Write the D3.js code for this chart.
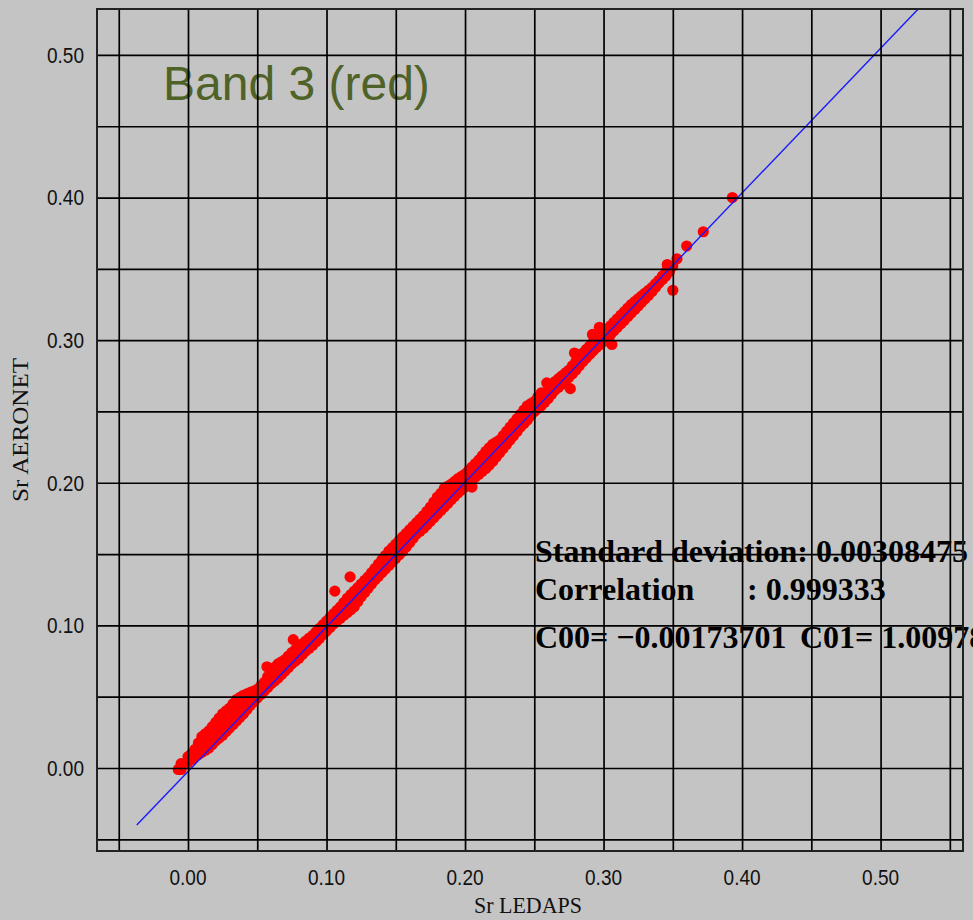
<!DOCTYPE html>
<html>
<head>
<meta charset="utf-8">
<script src="https://cdn.jsdelivr.net/npm/d3@7"></script>
<style>
  body { margin: 0; background: #c4c4c4; }
  .tick-label { font-family: "Liberation Sans", Arial, sans-serif; font-size: 22px; fill: #111; }
  .axis-title { font-family: "Liberation Serif", "Times New Roman", serif; font-size: 24px; fill: #111; }
  .stats { font-family: "Liberation Serif", "Times New Roman", serif; font-size: 32px; font-weight: bold; fill: #000; }
</style>
</head>
<body>
<div class="chart"></div>
<script>
// data: [Sr LEDAPS, Sr AERONET]
var srBandA = [
  [-0.007, -0.001], [-0.005, -0.001], [-0.005, 0.003],
  [0.000, 0.004], [0.000, 0.008],
  [0.005, 0.008], [0.005, 0.013],
  [0.010, 0.011], [0.010, 0.016], [0.010, 0.022],
  [0.015, 0.014], [0.015, 0.020], [0.015, 0.026],
  [0.020, 0.019], [0.020, 0.023], [0.020, 0.028], [0.020, 0.032],
  [0.025, 0.023], [0.025, 0.028], [0.025, 0.033], [0.025, 0.038],
  [0.030, 0.028], [0.030, 0.033], [0.030, 0.038], [0.030, 0.042],
  [0.035, 0.033], [0.035, 0.038], [0.035, 0.043], [0.035, 0.048],
  [0.040, 0.038], [0.040, 0.044], [0.040, 0.051],
  [0.045, 0.044], [0.045, 0.049], [0.045, 0.053],
  [0.050, 0.049], [0.050, 0.055],
  [0.055, 0.054], [0.055, 0.060], [0.057, 0.071],
  [0.060, 0.059], [0.060, 0.064], [0.060, 0.068],
  [0.065, 0.063], [0.065, 0.068], [0.065, 0.073],
  [0.070, 0.068], [0.070, 0.072], [0.070, 0.076],
  [0.075, 0.073], [0.075, 0.077], [0.075, 0.081], [0.076, 0.090],
  [0.080, 0.077], [0.080, 0.081], [0.080, 0.085],
  [0.085, 0.082], [0.085, 0.089],
  [0.090, 0.086], [0.090, 0.093],
  [0.095, 0.091], [0.095, 0.098],
  [0.100, 0.096], [0.100, 0.103],
  [0.105, 0.101], [0.105, 0.108], [0.106, 0.124],
  [0.110, 0.105], [0.110, 0.109], [0.110, 0.113],
  [0.115, 0.109], [0.115, 0.114], [0.115, 0.119], [0.117, 0.134],
  [0.120, 0.113], [0.120, 0.118], [0.120, 0.124],
  [0.125, 0.120], [0.125, 0.124], [0.125, 0.129],
  [0.130, 0.126], [0.130, 0.130], [0.130, 0.134],
  [0.135, 0.132], [0.135, 0.136], [0.135, 0.140],
  [0.140, 0.137], [0.140, 0.142], [0.140, 0.146],
  [0.145, 0.142], [0.145, 0.147], [0.145, 0.152],
  [0.150, 0.147], [0.150, 0.152], [0.150, 0.157],
  [0.155, 0.152], [0.155, 0.157], [0.155, 0.162],
  [0.160, 0.158], [0.160, 0.162], [0.160, 0.167],
  [0.165, 0.164], [0.165, 0.168], [0.165, 0.172],
  [0.170, 0.168], [0.170, 0.173], [0.170, 0.177],
  [0.175, 0.173], [0.175, 0.178], [0.175, 0.183],
  [0.180, 0.178], [0.180, 0.184], [0.180, 0.190],
  [0.185, 0.183], [0.185, 0.188], [0.185, 0.192], [0.185, 0.196],
  [0.190, 0.188], [0.190, 0.193], [0.190, 0.199],
  [0.195, 0.193], [0.195, 0.198], [0.195, 0.203],
  [0.200, 0.197], [0.200, 0.201], [0.200, 0.206],
  [0.205, 0.197], [0.205, 0.202], [0.205, 0.207], [0.205, 0.211],
  [0.210, 0.206], [0.210, 0.211], [0.210, 0.216],
  [0.215, 0.210], [0.215, 0.216], [0.215, 0.222],
  [0.220, 0.215], [0.220, 0.221], [0.220, 0.227],
  [0.225, 0.221], [0.225, 0.225], [0.225, 0.230],
  [0.230, 0.227], [0.230, 0.231], [0.230, 0.236],
  [0.235, 0.233], [0.235, 0.237], [0.235, 0.242],
  [0.240, 0.239], [0.240, 0.243], [0.240, 0.248],
  [0.245, 0.244], [0.245, 0.249], [0.245, 0.254],
  [0.250, 0.250], [0.250, 0.254], [0.250, 0.257],
  [0.255, 0.254], [0.255, 0.258], [0.255, 0.263],
  [0.260, 0.259], [0.260, 0.265], [0.259, 0.270],
  [0.265, 0.265], [0.265, 0.271],
  [0.270, 0.269], [0.270, 0.275],
  [0.275, 0.274], [0.275, 0.279], [0.276, 0.266],
  [0.280, 0.279], [0.280, 0.285], [0.279, 0.291],
  [0.285, 0.285], [0.285, 0.291],
  [0.290, 0.290], [0.290, 0.296], [0.292, 0.304],
  [0.295, 0.295], [0.295, 0.301], [0.297, 0.309],
  [0.300, 0.299], [0.300, 0.305],
  [0.305, 0.304], [0.305, 0.310], [0.306, 0.297],
  [0.310, 0.309], [0.310, 0.315],
  [0.315, 0.314], [0.315, 0.320],
  [0.320, 0.319], [0.320, 0.325],
  [0.325, 0.324], [0.325, 0.329],
  [0.330, 0.329], [0.330, 0.333],
  [0.335, 0.334], [0.335, 0.337],
  [0.340, 0.340], [0.340, 0.342],
  [0.345, 0.345], [0.345, 0.348], [0.346, 0.353],
  [0.350, 0.352], [0.350, 0.335],
  [0.353, 0.357], [0.360, 0.366], [0.372, 0.376], [0.393, 0.400]
];

// more points read between the ones above, where the cloud is solid
var srBandB = [
  [0.0025, 0.006], [0.0025, 0.010],
  [0.0075, 0.0095], [0.0075, 0.0145], [0.0075, 0.0175],
  [0.0125, 0.0125], [0.0125, 0.0185], [0.0125, 0.024],
  [0.0175, 0.0165], [0.0175, 0.0225], [0.0175, 0.029],
  [0.0225, 0.021], [0.0225, 0.0265], [0.0225, 0.031], [0.0225, 0.035],
  [0.0275, 0.0255], [0.0275, 0.0305], [0.0275, 0.0355], [0.0275, 0.040],
  [0.0325, 0.0305], [0.0325, 0.0355], [0.0325, 0.0405], [0.0325, 0.045],
  [0.0375, 0.0355], [0.0375, 0.041], [0.0375, 0.0455], [0.0375, 0.0495],
  [0.0425, 0.041], [0.0425, 0.0465], [0.0425, 0.052],
  [0.0475, 0.0465], [0.0475, 0.051], [0.0475, 0.054],
  [0.0525, 0.0515], [0.0525, 0.0575],
  [0.0575, 0.0565], [0.0575, 0.064],
  [0.0625, 0.061], [0.0625, 0.066], [0.0625, 0.0705],
  [0.0675, 0.0655], [0.0675, 0.070], [0.0675, 0.0745],
  [0.0725, 0.0705], [0.0725, 0.0745], [0.0725, 0.0785],
  [0.0775, 0.075], [0.0775, 0.079], [0.0775, 0.083],
  [0.0825, 0.0795], [0.0825, 0.087],
  [0.0875, 0.084], [0.0875, 0.091],
  [0.0925, 0.0885], [0.0925, 0.0955],
  [0.0975, 0.0935], [0.0975, 0.1005],
  [0.1025, 0.0985], [0.1025, 0.1055],
  [0.1075, 0.103], [0.1075, 0.1105],
  [0.1125, 0.107], [0.1125, 0.1115], [0.1125, 0.116],
  [0.1175, 0.111], [0.1175, 0.116], [0.1175, 0.1215],
  [0.1225, 0.1165], [0.1225, 0.121], [0.1225, 0.1265],
  [0.1275, 0.123], [0.1275, 0.127], [0.1275, 0.1315],
  [0.1325, 0.129], [0.1325, 0.133], [0.1325, 0.137],
  [0.1375, 0.1345], [0.1375, 0.139], [0.1375, 0.143],
  [0.1425, 0.1395], [0.1425, 0.1445], [0.1425, 0.149],
  [0.1475, 0.1445], [0.1475, 0.1495], [0.1475, 0.1545],
  [0.1525, 0.1495], [0.1525, 0.1545], [0.1525, 0.1595],
  [0.1575, 0.155], [0.1575, 0.1595], [0.1575, 0.1645],
  [0.1625, 0.161], [0.1625, 0.165], [0.1625, 0.1695],
  [0.1675, 0.166], [0.1675, 0.1705], [0.1675, 0.1745],
  [0.1725, 0.1705], [0.1725, 0.1755], [0.1725, 0.180],
  [0.1775, 0.1755], [0.1775, 0.181], [0.1775, 0.1865],
  [0.1825, 0.1805], [0.1825, 0.186], [0.1825, 0.1925],
  [0.1875, 0.1855], [0.1875, 0.1905], [0.1875, 0.1975],
  [0.1925, 0.1905], [0.1925, 0.1955], [0.1925, 0.201],
  [0.1975, 0.195], [0.1975, 0.1995], [0.1975, 0.2045],
  [0.2025, 0.1995], [0.2025, 0.204], [0.2025, 0.2085],
  [0.2075, 0.204], [0.2075, 0.209], [0.2075, 0.2135],
  [0.2125, 0.208], [0.2125, 0.2135], [0.2125, 0.219],
  [0.2175, 0.2125], [0.2175, 0.2185], [0.2175, 0.2245],
  [0.2225, 0.218], [0.2225, 0.223], [0.2225, 0.2285],
  [0.2275, 0.224], [0.2275, 0.228], [0.2275, 0.233],
  [0.2325, 0.230], [0.2325, 0.234], [0.2325, 0.239],
  [0.2375, 0.236], [0.2375, 0.240], [0.2375, 0.245],
  [0.2425, 0.2415], [0.2425, 0.246], [0.2425, 0.251],
  [0.2475, 0.247], [0.2475, 0.2515], [0.2475, 0.2555],
  [0.2525, 0.252], [0.2525, 0.256], [0.2525, 0.260],
  [0.2575, 0.2565], [0.2575, 0.2625],
  [0.2625, 0.262], [0.2625, 0.268],
  [0.2675, 0.267], [0.2675, 0.273],
  [0.2725, 0.2715], [0.2725, 0.277],
  [0.2775, 0.2765], [0.2775, 0.282],
  [0.2825, 0.282], [0.2825, 0.288],
  [0.2875, 0.2875], [0.2875, 0.2935],
  [0.2925, 0.2925], [0.2925, 0.2985],
  [0.2975, 0.297], [0.2975, 0.303],
  [0.3025, 0.3015], [0.3025, 0.3075],
  [0.3075, 0.3065], [0.3075, 0.3125],
  [0.3125, 0.3115], [0.3125, 0.3175],
  [0.3175, 0.3165], [0.3175, 0.3225],
  [0.3225, 0.3215], [0.3225, 0.327],
  [0.3275, 0.3265], [0.3275, 0.331],
  [0.3325, 0.3315], [0.3325, 0.335],
  [0.3375, 0.337], [0.3375, 0.3395],
  [0.3425, 0.3425], [0.3425, 0.345],
  [0.3475, 0.348], [0.3475, 0.350]
];

var srPairs = srBandA.concat(srBandB);

// regression line end points
var fitLine = [[-0.037, -0.040], [0.527, 0.532]];

var gridX = [-0.05, 0, 0.05, 0.10, 0.15, 0.20, 0.25, 0.30, 0.35, 0.40, 0.45, 0.50, 0.55];
var gridY = [-0.05, 0, 0.05, 0.10, 0.15, 0.20, 0.25, 0.30, 0.35, 0.40, 0.45, 0.50];
var tickX = [0, 0.10, 0.20, 0.30, 0.40, 0.50];
var tickY = [0, 0.10, 0.20, 0.30, 0.40, 0.50];

var titleText = "Band 3 (red)";
var statLines = ["Standard deviation: 0.00308475", "Correlation", ": 0.999333", "C00= \u22120.00173701", "C01= 1.00978"];

// set size of SVG
var svgWidth = 973;
var svgHeight = 920;

var margin = { top: 9, right: 10, bottom: 69, left: 97 };
var width = svgWidth - margin.left - margin.right;
var height = svgHeight - margin.top - margin.bottom;

var svgRoot = d3.select(".chart")
  .append("svg")
  .attr("width", svgWidth)
  .attr("height", svgHeight)
  .style("display", "block");

svgRoot.append("rect")
  .attr("width", svgWidth)
  .attr("height", svgHeight)
  .attr("fill", "#c4c4c4");

var svg = svgRoot.append("g")
  .attr("transform", `translate(${margin.left}, ${margin.top})`);

// scales
var xScale = d3.scaleLinear().domain([-0.0657, 0.5595]).range([0, width]);
var yScale = d3.scaleLinear().domain([-0.0582, 0.5322]).range([height, 0]);

// band title
svg.append("text")
  .attr("x", 163 - margin.left)
  .attr("y", 100 - margin.top)
  .attr("font-family", "'Liberation Sans', Arial, sans-serif")
  .attr("font-size", "48px")
  .attr("fill", "#4f6228")
  .text(titleText);

// points
svg.append("g")
  .selectAll("circle")
  .data(srPairs)
  .enter()
  .append("circle")
  .attr("cx", d => xScale(d[0]))
  .attr("cy", d => yScale(d[1]))
  .attr("r", 5.6)
  .attr("fill", "#ff0000");

// fitted line
svg.append("path")
  .datum(fitLine)
  .attr("fill", "none")
  .attr("stroke", "#1a1aff")
  .attr("stroke-width", 1.4)
  .attr("d", d3.line().x(d => xScale(d[0])).y(d => yScale(d[1])));

// statistics text
var statsG = svg.append("g").attr("class", "stats");
statsG.append("text").attr("x", 535 - margin.left).attr("y", 562 - margin.top).text(statLines[0]);
statsG.append("text").attr("x", 535 - margin.left).attr("y", 600 - margin.top).text(statLines[1]);
statsG.append("text").attr("x", 747 - margin.left).attr("y", 600 - margin.top).text(statLines[2]);
statsG.append("text").attr("x", 535 - margin.left).attr("y", 648 - margin.top).text(statLines[3]);
statsG.append("text").attr("x", 800 - margin.left).attr("y", 648 - margin.top).text(statLines[4]);

// grid on top
var gridXAxis = d3.axisBottom(xScale).tickValues(gridX).tickSize(-height).tickFormat("");
var gridYAxis = d3.axisLeft(yScale).tickValues(gridY).tickSize(-width).tickFormat("");

svg.append("g")
  .attr("transform", `translate(0, ${height})`)
  .call(gridXAxis)
  .call(g => g.select(".domain").remove())
  .selectAll("line")
  .attr("stroke", "#000")
  .attr("stroke-width", 1.7);

svg.append("g")
  .call(gridYAxis)
  .call(g => g.select(".domain").remove())
  .selectAll("line")
  .attr("stroke", "#000")
  .attr("stroke-width", 1.7);

// frame
svg.append("rect")
  .attr("width", width)
  .attr("height", height)
  .attr("fill", "none")
  .attr("stroke", "#222")
  .attr("stroke-width", 2);

// tick labels (narrow face in the original)
svg.append("g")
  .selectAll("text")
  .data(tickX)
  .enter()
  .append("text")
  .attr("class", "tick-label")
  .attr("x", d => xScale(d))
  .attr("y", height + 34)
  .attr("text-anchor", "middle")
  .attr("textLength", 37)
  .attr("lengthAdjust", "spacingAndGlyphs")
  .text(d => d3.format(".2f")(d));

svg.append("g")
  .selectAll("text")
  .data(tickY)
  .enter()
  .append("text")
  .attr("class", "tick-label")
  .attr("x", -13)
  .attr("y", d => yScale(d))
  .attr("dy", "0.36em")
  .attr("text-anchor", "end")
  .attr("textLength", 37)
  .attr("lengthAdjust", "spacingAndGlyphs")
  .text(d => d3.format(".2f")(d));

// axis titles
svgRoot.append("text")
  .attr("class", "axis-title")
  .attr("x", 528)
  .attr("y", 913)
  .attr("text-anchor", "middle")
  .attr("textLength", 108)
  .attr("lengthAdjust", "spacingAndGlyphs")
  .text("Sr LEDAPS");

svgRoot.append("text")
  .attr("class", "axis-title")
  .attr("transform", "translate(28, 430) rotate(-90)")
  .attr("text-anchor", "middle")
  .attr("textLength", 144)
  .attr("lengthAdjust", "spacingAndGlyphs")
  .text("Sr AERONET");
</script>
</body>
</html>
